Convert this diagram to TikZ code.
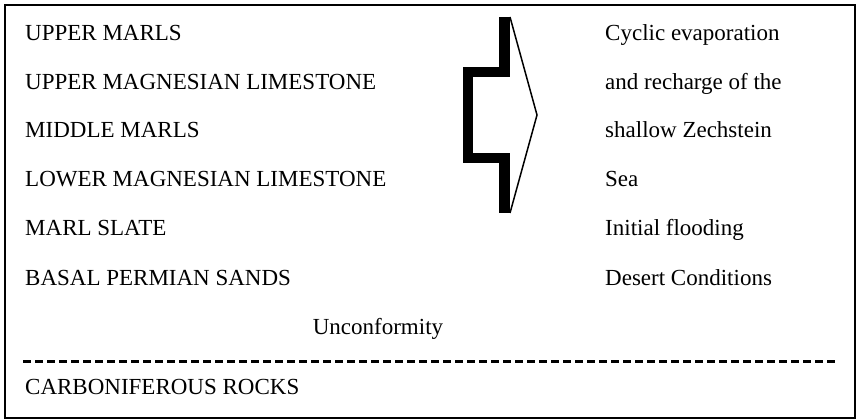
\documentclass[tikz,border=0pt]{standalone}
\usepackage{fontspec}
\setmainfont{Liberation Serif}
\usepackage{tikz}
\usetikzlibrary{positioning}
\tikzset{
  lyr/.style={anchor=base west,inner sep=0pt,font=\fontsize{23}{27}\selectfont},
  note/.style={lyr},
  frame/.style={draw=black,line width=2pt},
  unc/.style={draw=black,line width=3pt,dash pattern=on 8pt off 4pt},
  bigarr/.style={draw=black,line width=10.5pt,line join=miter,line cap=butt},
  thinarr/.style={draw=black,line width=1.5pt,line join=miter},
}
\begin{document}
\begin{tikzpicture}[x=1pt,y=-1pt]
\useasboundingbox (0,0) rectangle (858,419);
\draw[frame] (5,5) rectangle (855,418);
% strata, youngest at top
\node[lyr] (um)  at (25,41)  {UPPER MARLS};
\node[lyr] (uml) at (25,90)  {UPPER MAGNESIAN LIMESTONE};
\node[lyr] (mm)  at (25,138) {MIDDLE MARLS};
\node[lyr] (lml) at (25,187) {LOWER MAGNESIAN LIMESTONE};
\node[lyr] (ms)  at (25,236) {MARL SLATE};
\node[lyr] (bps) at (25,285) {BASAL PERMIAN SANDS};
\node[lyr,anchor=base] (unf) at (378,334) {Unconformity};
\node[lyr] (cr)  at (25,394) {CARBONIFEROUS ROCKS};
% environments
\node[note] (n1) at (605,41)  {Cyclic evaporation};
\node[note] (n2) at (605,90)  {and recharge of the};
\node[note] (n3) at (605,138) {shallow Zechstein};
\node[note] (n4) at (605,187) {Sea};
\node[note] (n5) at (605,236) {Initial flooding};
\node[note] (n6) at (605,285) {Desert Conditions};
\coordinate (dl) at (23,361);
\coordinate (dr) at (837,361);
\draw[unc] (dl) -- (dr);
% bracket arrow
\coordinate (bt) at (504.5,17);
\coordinate (bb) at (504.5,213);
\coordinate (tip) at (537,115);
\draw[bigarr] (bt) -- (504.5,72) -- (468,72) -- (468,158) -- (504.5,158) -- (bb);
\draw[thinarr] (510,17) -- (tip) -- (510,213);
\end{tikzpicture}
\end{document}
